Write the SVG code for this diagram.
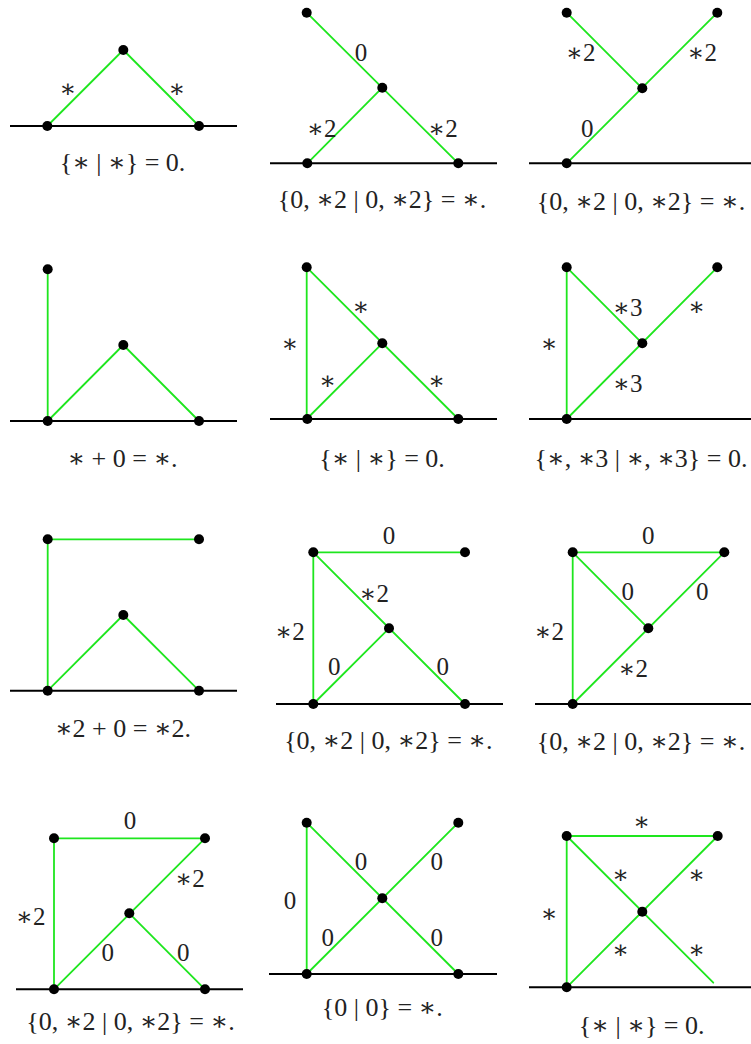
<svg xmlns="http://www.w3.org/2000/svg" width="751" height="1044" viewBox="0 0 751 1044">
<style>
.e{stroke:#1ee61e;stroke-width:1.8;fill:none;stroke-linecap:round}
.g{stroke:#000;stroke-width:2;fill:none}
.n{fill:#000}
text{fill:#222;text-anchor:middle;font-family:"Liberation Serif","DejaVu Serif",serif}
.l{font-size:25px}
.c{font-size:26px}
</style>
<rect width="751" height="1044" fill="#fff"/>
<g id="connectors">
<line class="g" x1="10" y1="126" x2="237" y2="126"/>
<line class="g" x1="270" y1="163.3" x2="497" y2="163.3"/>
<line class="g" x1="529" y1="163.3" x2="751" y2="163.3"/>
<line class="g" x1="10" y1="421" x2="237" y2="421"/>
<line class="g" x1="270" y1="419" x2="497" y2="419"/>
<line class="g" x1="529" y1="419" x2="751" y2="419"/>
<line class="g" x1="10" y1="690.7" x2="237" y2="690.7"/>
<line class="g" x1="276" y1="704" x2="503" y2="704"/>
<line class="g" x1="535" y1="704" x2="751" y2="704"/>
<line class="g" x1="16" y1="989.3" x2="243" y2="989.3"/>
<line class="g" x1="269" y1="974" x2="497" y2="974"/>
<line class="g" x1="529" y1="987.3" x2="751" y2="987.3"/>
<line class="e" x1="47.3" y1="126" x2="123.3" y2="50"/>
<line class="e" x1="123.3" y1="50" x2="199" y2="126"/>
<line class="e" x1="306.7" y1="12.7" x2="458.3" y2="163.3"/>
<line class="e" x1="307.3" y1="163.3" x2="382.3" y2="87.7"/>
<line class="e" x1="566.7" y1="12.7" x2="642.3" y2="88.3"/>
<line class="e" x1="566.7" y1="163.3" x2="717.3" y2="12.7"/>
<line class="e" x1="47.7" y1="269.3" x2="47.7" y2="421"/>
<line class="e" x1="47.7" y1="421" x2="123.3" y2="345"/>
<line class="e" x1="123.3" y1="345" x2="199" y2="421"/>
<line class="e" x1="306.7" y1="267.3" x2="306.7" y2="419"/>
<line class="e" x1="306.7" y1="267.3" x2="458.3" y2="419"/>
<line class="e" x1="306.7" y1="419" x2="382.3" y2="343.3"/>
<line class="e" x1="566.7" y1="267.3" x2="566.7" y2="419"/>
<line class="e" x1="566.7" y1="267.3" x2="642.3" y2="343.3"/>
<line class="e" x1="566.7" y1="419" x2="717.3" y2="267.3"/>
<line class="e" x1="47.7" y1="539.3" x2="47.7" y2="690.7"/>
<line class="e" x1="47.7" y1="539.3" x2="199" y2="539.3"/>
<line class="e" x1="47.7" y1="690.7" x2="123.3" y2="615"/>
<line class="e" x1="123.3" y1="615" x2="199" y2="690.7"/>
<line class="e" x1="313.3" y1="552.3" x2="465" y2="552.3"/>
<line class="e" x1="313.3" y1="552.3" x2="313.3" y2="704"/>
<line class="e" x1="313.3" y1="552.3" x2="465" y2="704"/>
<line class="e" x1="313.3" y1="704" x2="389" y2="628.3"/>
<line class="e" x1="572.7" y1="552.3" x2="724.3" y2="552.3"/>
<line class="e" x1="572.7" y1="552.3" x2="572.7" y2="704"/>
<line class="e" x1="572.7" y1="552.3" x2="648.3" y2="628.3"/>
<line class="e" x1="572.7" y1="704" x2="724.3" y2="552.3"/>
<line class="e" x1="54" y1="838.3" x2="205" y2="838.3"/>
<line class="e" x1="54" y1="838.3" x2="54" y2="989.3"/>
<line class="e" x1="54" y1="989.3" x2="205" y2="838.3"/>
<line class="e" x1="129.3" y1="913.3" x2="205" y2="989.3"/>
<line class="e" x1="306.7" y1="822.7" x2="306.7" y2="974"/>
<line class="e" x1="306.7" y1="822.7" x2="458.3" y2="974"/>
<line class="e" x1="306.7" y1="974" x2="458.3" y2="822.7"/>
<line class="e" x1="566.7" y1="836" x2="717.7" y2="836"/>
<line class="e" x1="566.7" y1="836" x2="566.7" y2="987.3"/>
<line class="e" x1="566.7" y1="836" x2="713.3" y2="982.7"/>
<line class="e" x1="566.7" y1="987.3" x2="717.7" y2="836"/>
</g>
<g id="p1">
<circle class="n" cx="47.3" cy="126" r="5"/><circle class="n" cx="123.3" cy="50" r="5"/><circle class="n" cx="199" cy="126" r="5"/>
<text class="l" x="68" y="97">∗</text><text class="l" x="177" y="97">∗</text>
<text class="c" x="122.5" y="171">{∗ | ∗} = 0.</text>
</g>
<g id="p2">
<circle class="n" cx="306.7" cy="12.7" r="5"/><circle class="n" cx="382.3" cy="87.7" r="5"/><circle class="n" cx="307.3" cy="163.3" r="5"/><circle class="n" cx="458.3" cy="163.3" r="5"/>
<text class="l" x="361" y="60.5">0</text><text class="l" x="321.7" y="136.5">∗2</text><text class="l" x="443" y="136.5">∗2</text>
<text class="c" x="382" y="208">{0, ∗2 | 0, ∗2} = ∗.</text>
</g>
<g id="p3">
<circle class="n" cx="566.7" cy="12.7" r="5"/><circle class="n" cx="717.3" cy="12.7" r="5"/><circle class="n" cx="642.3" cy="88.3" r="5"/><circle class="n" cx="566.7" cy="163.3" r="5"/>
<text class="l" x="580.7" y="61">∗2</text><text class="l" x="702.3" y="61">∗2</text><text class="l" x="587.3" y="136.5">0</text>
<text class="c" x="641" y="210">{0, ∗2 | 0, ∗2} = ∗.</text>
</g>
<g id="p4">
<circle class="n" cx="47.7" cy="269.3" r="5"/><circle class="n" cx="123.3" cy="345" r="5"/><circle class="n" cx="47.7" cy="421" r="5"/><circle class="n" cx="199" cy="421" r="5"/>
<text class="c" x="122.5" y="467">∗ + 0 = ∗.</text>
</g>
<g id="p5">
<circle class="n" cx="306.7" cy="267.3" r="5"/><circle class="n" cx="382.3" cy="343.3" r="5"/><circle class="n" cx="307.3" cy="419" r="5"/><circle class="n" cx="458.3" cy="419" r="5"/>
<text class="l" x="290" y="352">∗</text><text class="l" x="361" y="315">∗</text><text class="l" x="327.7" y="389">∗</text><text class="l" x="436.7" y="389">∗</text>
<text class="c" x="382" y="466.5">{∗ | ∗} = 0.</text>
</g>
<g id="p6">
<circle class="n" cx="566.7" cy="267.3" r="5"/><circle class="n" cx="717.3" cy="267.3" r="5"/><circle class="n" cx="642.3" cy="343.3" r="5"/><circle class="n" cx="566.7" cy="419" r="5"/>
<text class="l" x="549.3" y="352">∗</text><text class="l" x="627.7" y="316">∗3</text><text class="l" x="696.7" y="314.5">∗</text><text class="l" x="627.7" y="392">∗3</text>
<text class="c" x="641" y="466.5">{∗, ∗3 | ∗, ∗3} = 0.</text>
</g>
<g id="p7">
<circle class="n" cx="47.7" cy="539.3" r="5"/><circle class="n" cx="199" cy="539.3" r="5"/><circle class="n" cx="123.3" cy="615" r="5"/><circle class="n" cx="47.7" cy="690.7" r="5"/><circle class="n" cx="199" cy="690.7" r="5"/>
<text class="c" x="123" y="737">∗2 + 0 = ∗2.</text>
</g>
<g id="p8">
<circle class="n" cx="313.3" cy="552.3" r="5"/><circle class="n" cx="465" cy="552.3" r="5"/><circle class="n" cx="389" cy="628.3" r="5"/><circle class="n" cx="313.3" cy="704" r="5"/><circle class="n" cx="465" cy="704" r="5"/>
<text class="l" x="389" y="543.5">0</text><text class="l" x="374.3" y="602">∗2</text><text class="l" x="290" y="639.5">∗2</text><text class="l" x="334.3" y="675">0</text><text class="l" x="442.7" y="675">0</text>
<text class="c" x="388.3" y="749">{0, ∗2 | 0, ∗2} = ∗.</text>
</g>
<g id="p9">
<circle class="n" cx="572.7" cy="552.3" r="5"/><circle class="n" cx="724.3" cy="552.3" r="5"/><circle class="n" cx="648.3" cy="628.3" r="5"/><circle class="n" cx="572.7" cy="704" r="5"/>
<text class="l" x="648.3" y="543.5">0</text><text class="l" x="627.7" y="600">0</text><text class="l" x="702.3" y="600">0</text><text class="l" x="549.3" y="639.5">∗2</text><text class="l" x="633.3" y="677">∗2</text>
<text class="c" x="641" y="750">{0, ∗2 | 0, ∗2} = ∗.</text>
</g>
<g id="p10">
<circle class="n" cx="54" cy="838.3" r="5"/><circle class="n" cx="205" cy="838.3" r="5"/><circle class="n" cx="129.3" cy="913.3" r="5"/><circle class="n" cx="54" cy="989.3" r="5"/><circle class="n" cx="205" cy="989.3" r="5"/>
<text class="l" x="130" y="829">0</text><text class="l" x="190" y="887">∗2</text><text class="l" x="30.7" y="925">∗2</text><text class="l" x="107.7" y="961">0</text><text class="l" x="183.3" y="961">0</text>
<text class="c" x="130.5" y="1030">{0, ∗2 | 0, ∗2} = ∗.</text>
</g>
<g id="p11">
<circle class="n" cx="306.7" cy="822.7" r="5"/><circle class="n" cx="458.3" cy="822.7" r="5"/><circle class="n" cx="382.3" cy="898.3" r="5"/><circle class="n" cx="306.7" cy="974" r="5"/><circle class="n" cx="458.3" cy="974" r="5"/>
<text class="l" x="290" y="908.5">0</text><text class="l" x="361" y="870">0</text><text class="l" x="436.7" y="870">0</text><text class="l" x="327.7" y="946">0</text><text class="l" x="436.7" y="946">0</text>
<text class="c" x="382.3" y="1016">{0 | 0} = ∗.</text>
</g>
<g id="p12">
<circle class="n" cx="566.7" cy="836" r="5"/><circle class="n" cx="717.7" cy="836" r="5"/><circle class="n" cx="642.3" cy="911.7" r="5"/><circle class="n" cx="566.7" cy="987.3" r="5"/>
<text class="l" x="641.7" y="829.5">∗</text><text class="l" x="620.7" y="883">∗</text><text class="l" x="696.7" y="883">∗</text><text class="l" x="549.3" y="921.5">∗</text><text class="l" x="620.7" y="958">∗</text><text class="l" x="696.7" y="958">∗</text>
<text class="c" x="641.7" y="1034">{∗ | ∗} = 0.</text>
</g>
</svg>
